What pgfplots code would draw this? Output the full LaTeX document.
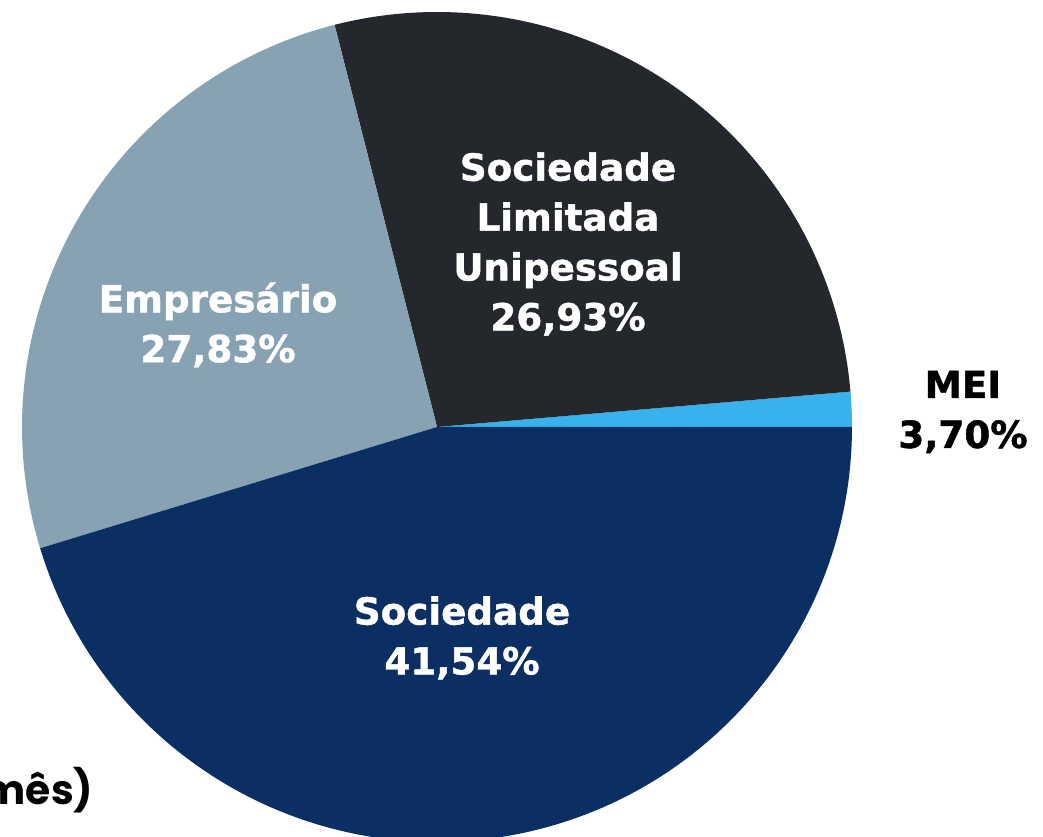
\documentclass[border=0pt]{standalone}
\usepackage{pgfplots}
\pgfplotsset{compat=1.18}
\usepackage{fontspec}
\setmainfont{DejaVu Sans}
\newfontfamily\lblfont{DejaVu Sans Bold}[FakeBold=1.2]
\newfontfamily\popfont{Poppins}

\definecolor{cSoc}{HTML}{0B2E63}
\definecolor{cEmp}{HTML}{87A3B3}
\definecolor{cSLU}{HTML}{24282D}
\definecolor{cMEI}{HTML}{38B2EC}

% slice shares as drawn (percent of the circle)
\def\vMEI{1.36}
\def\vSLU{27.61}
\def\vEmp{25.75}
\def\vSoc{45.28}
\def\R{4.15}

\begin{document}
\begin{tikzpicture}
\begin{axis}[
    x=1cm, y=1cm,
    xmin=-4.37, xmax=6.06,
    ymin=-4.10, ymax=4.27,
    hide axis,
    clip=false,
]
\fill[cMEI] (axis cs:0,0) -- ++(0:\R cm)
    arc[start angle=0, end angle={3.6*\vMEI}, radius=\R cm] -- cycle;
\fill[cSLU] (axis cs:0,0) -- ++({3.6*\vMEI}:\R cm)
    arc[start angle={3.6*\vMEI}, end angle={3.6*(\vMEI+\vSLU)}, radius=\R cm] -- cycle;
\fill[cEmp] (axis cs:0,0) -- ++({3.6*(\vMEI+\vSLU)}:\R cm)
    arc[start angle={3.6*(\vMEI+\vSLU)}, end angle={3.6*(\vMEI+\vSLU+\vEmp)}, radius=\R cm] -- cycle;
\fill[cSoc] (axis cs:0,0) -- ++({3.6*(\vMEI+\vSLU+\vEmp)}:\R cm)
    arc[start angle={3.6*(\vMEI+\vSLU+\vEmp)}, end angle={3.6*(\vMEI+\vSLU+\vEmp+\vSoc)}, radius=\R cm] -- cycle;

\tikzset{lbl/.style={align=center, font=\lblfont\fontsize{10.6}{14.2}\selectfont}}
\node[lbl, white] at (axis cs:1.31,1.83) {Sociedade\\Limitada\\Unipessoal\\26,93\%};
\node[lbl, white] at (axis cs:-2.19,1.02) {Empresário\\27,83\%};
\node[lbl, white] at (axis cs:0.25,-2.11) {Sociedade\\41,54\%};
\node[lbl, black] at (axis cs:5.26,0.15) {MEI\\3,70\%};
\node[anchor=base east, font=\popfont\bfseries\fontsize{11.6}{13}\selectfont, inner sep=0pt]
    at (axis cs:-3.43,-3.78) {mês)};
\end{axis}
\pgfresetboundingbox
\path (current axis.south west) rectangle (current axis.north east);
\end{tikzpicture}
\end{document}
